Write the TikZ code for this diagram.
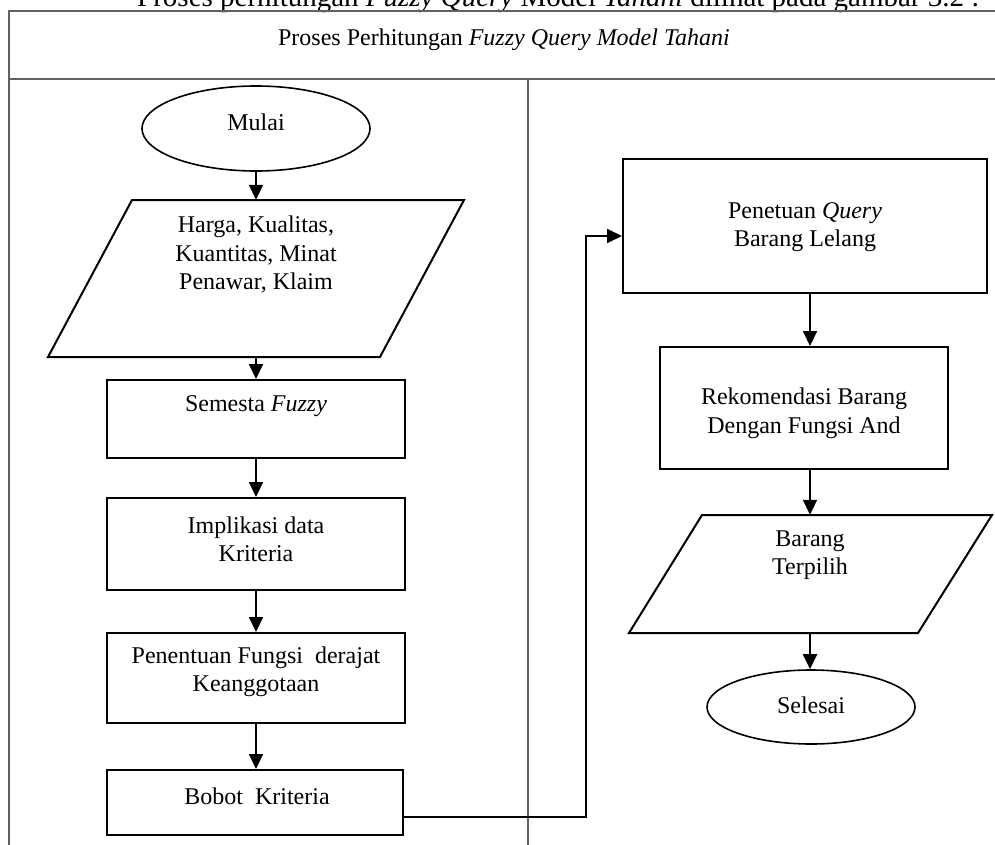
\documentclass[tikz,border=0pt]{standalone}
\usepackage{fontspec}
\setmainfont{Liberation Serif}
\usetikzlibrary{arrows.meta,calc,shapes.geometric}

\begin{document}
\begin{tikzpicture}[x=1pt,y=-1pt,
  frame/.style={draw=black!62, line width=1.1pt},
  flow/.style={line width=2pt, -{Triangle[length=15pt,width=14pt]}},
  procbox/.style={draw, line width=2pt, rectangle, inner sep=0pt},
  terminal/.style={draw, line width=1.6pt, ellipse, inner sep=0pt},
  iobox/.style={rectangle, inner sep=0pt},
  iopath/.style={line width=2pt, line join=miter},
  txt/.style={font=\fontsize{24}{28.5}\selectfont, align=center, inner sep=0pt},
]
\useasboundingbox (0,0) rectangle (995,845);

% introductory sentence, only its lower part falls on the page
\begin{scope}
  \clip (0,0) rectangle (995,845);
  \node[font=\fontsize{29}{34}\selectfont, anchor=base west, inner sep=0pt] (intro) at (137,7)
    {Proses perhitungan \textit{Fuzzy Query} Model \textit{Tahani} dilihat pada gambar 3.2 :};
\end{scope}

% table frame: header row and two lanes
\draw[frame] (9,845) -- (9,11) -- (995,11);
\draw[frame] (9,79) -- (995,79);
\draw[frame] (528,79) -- (528,845);
\node[txt] (title) at (504,40) {Proses Perhitungan \textit{Fuzzy Query Model Tahani}};

% left lane
\node[terminal, minimum width=228pt, minimum height=85pt] (mulai) at (256,128.5) {};
\node[txt] (mulai-t) at (256,122) {Mulai};

\node[iobox, minimum width=250pt, minimum height=157pt] (input) at (256,278.5) {};
\draw[iopath] ($(input.center)+(-124,-78.5)$) -- ($(input.center)+(208,-78.5)$)
  -- ($(input.center)+(124,78.5)$) -- ($(input.center)+(-208,78.5)$) -- cycle;
\node[txt] (input-t) at (256,255) {Harga, Kualitas,\\Kuantitas, Minat\\Penawar, Klaim};

\node[procbox, minimum width=298pt, minimum height=78pt] (semesta) at (256,419) {};
\node[txt] (semesta-t) at (256,406) {Semesta \textit{Fuzzy}};

\node[procbox, minimum width=298pt, minimum height=92pt] (implikasi) at (256,544) {};
\node[txt] (implikasi-t) at (256,539.5) {Implikasi data\\Kriteria};

\node[procbox, minimum width=298pt, minimum height=90pt] (fungsi) at (256,678) {};
\node[txt] (fungsi-t) at (256,672) {Penentuan Fungsi\ \ derajat\\Keanggotaan};

\node[procbox, minimum width=296pt, minimum height=65pt] (bobot) at (255,802.5) {};
\node[txt] (bobot-t) at (257,796) {Bobot\ \ Kriteria};

% right lane
\node[procbox, minimum width=364pt, minimum height=134pt] (query) at (805,226) {};
\node[txt] (query-t) at (805,227) {Penetuan \textit{Query}\\Barang Lelang};

\node[procbox, minimum width=288pt, minimum height=122pt] (rekom) at (804,408) {};
\node[txt] (rekom-t) at (804,413.5) {Rekomendasi Barang\\Dengan Fungsi And};

\node[iobox, minimum width=216pt, minimum height=118pt] (output) at (810,574) {};
\draw[iopath] ($(output.center)+(-108,-59)$) -- ($(output.center)+(182,-59)$)
  -- ($(output.center)+(108,59)$) -- ($(output.center)+(-181,59)$) -- cycle;
\node[txt] (output-t) at (810,555) {Barang\\Terpilih};

\node[terminal, minimum width=208pt, minimum height=74pt] (selesai) at (811,707) {};
\node[txt] (selesai-t) at (811,705) {Selesai};

% connectors
\draw[flow] (mulai.south) -- (input.north);
\draw[flow] (input.south) -- (semesta.north);
\draw[flow] (semesta.south) -- (implikasi.north);
\draw[flow] (implikasi.south) -- (fungsi.north);
\draw[flow] (fungsi.south) -- (fungsi.south |- bobot.north);
\coordinate (elbow) at (586,236);
\draw[flow] ([yshift=-14.5pt]bobot.east) -| (elbow) -- ([yshift=-10pt]query.west);
\draw[flow] (query.south -| output.center) -- (rekom.north -| output.center);
\draw[flow] (rekom.south -| output.center) -- (output.north);
\draw[flow] (output.south) -- (selesai.north -| output.center);
\end{tikzpicture}
\end{document}
